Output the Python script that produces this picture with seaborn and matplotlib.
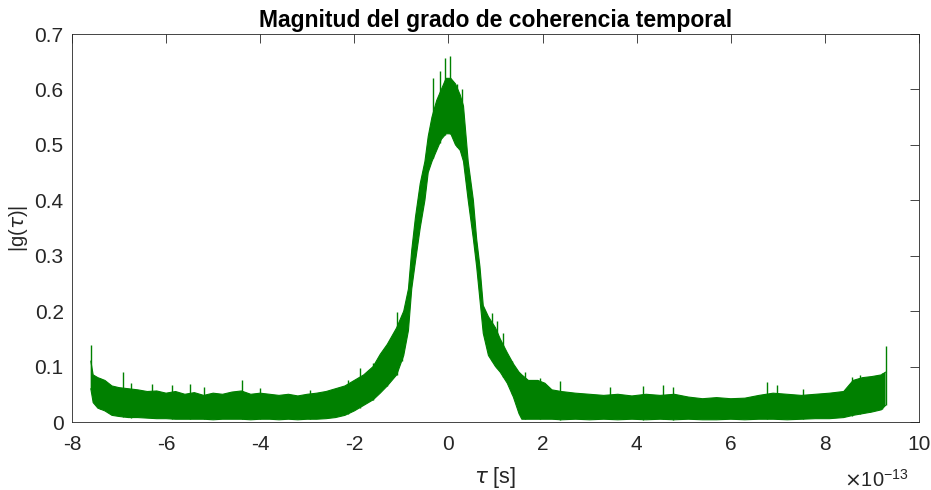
import matplotlib
matplotlib.use("Agg")
import matplotlib.pyplot as plt
import seaborn as sns
import numpy as np

# ---- data (tau in units of 1e-13 s) ----
tau = [-7.60, -7.55, -7.45, -7.30, -7.15, -7.00, -6.80, -6.60, -6.40, -6.20,
       -6.00, -5.80, -5.60, -5.40, -5.20, -5.00, -4.80, -4.60, -4.40, -4.20,
       -4.00, -3.80, -3.60, -3.40, -3.20, -3.00, -2.80, -2.60, -2.40, -2.20,
       -2.00, -1.80, -1.60, -1.45, -1.30, -1.10, -0.95, -0.85, -0.78, -0.70,
       -0.60, -0.50, -0.43, -0.35, -0.25, -0.15, -0.05, 0.05, 0.15, 0.25,
       0.32, 0.42, 0.53, 0.60, 0.67, 0.74, 0.85, 1.00, 1.10, 1.25,
       1.38, 1.50, 1.56, 1.70, 1.90, 2.05, 2.20, 2.40, 2.70, 3.00,
       3.30, 3.60, 3.90, 4.20, 4.50, 4.80, 5.10, 5.40, 5.70, 6.00,
       6.30, 6.60, 6.90, 7.20, 7.50, 7.80, 8.10, 8.40, 8.60, 8.80,
       9.00, 9.20, 9.29]
g_low = [0.060, 0.035, 0.025, 0.020, 0.012, 0.010, 0.008, 0.008, 0.007, 0.006,
         0.006, 0.005, 0.005, 0.005, 0.005, 0.004, 0.005, 0.005, 0.005, 0.004,
         0.005, 0.005, 0.004, 0.005, 0.004, 0.005, 0.005, 0.006, 0.008, 0.012,
         0.020, 0.030, 0.040, 0.052, 0.065, 0.085, 0.120, 0.165, 0.240, 0.290,
         0.350, 0.400, 0.450, 0.470, 0.490, 0.510, 0.520, 0.520, 0.500, 0.490,
         0.470, 0.400, 0.330, 0.280, 0.220, 0.160, 0.120, 0.100, 0.090, 0.070,
         0.045, 0.015, 0.005, 0.005, 0.005, 0.005, 0.005, 0.004, 0.005, 0.004,
         0.005, 0.004, 0.005, 0.004, 0.005, 0.004, 0.005, 0.004, 0.004, 0.005,
         0.004, 0.005, 0.005, 0.004, 0.005, 0.006, 0.006, 0.008, 0.012, 0.015,
         0.018, 0.022, 0.030]
g_high = [0.110, 0.085, 0.080, 0.075, 0.065, 0.062, 0.060, 0.058, 0.055, 0.056,
          0.052, 0.055, 0.050, 0.053, 0.048, 0.052, 0.050, 0.054, 0.056, 0.050,
          0.052, 0.050, 0.048, 0.050, 0.047, 0.050, 0.052, 0.055, 0.060, 0.065,
          0.075, 0.085, 0.100, 0.122, 0.140, 0.170, 0.200, 0.240, 0.310, 0.370,
          0.430, 0.470, 0.515, 0.550, 0.580, 0.600, 0.620, 0.620, 0.610, 0.590,
          0.570, 0.470, 0.400, 0.330, 0.280, 0.210, 0.190, 0.170, 0.150, 0.125,
          0.105, 0.090, 0.085, 0.075, 0.075, 0.070, 0.058, 0.055, 0.052, 0.050,
          0.048, 0.050, 0.047, 0.050, 0.048, 0.050, 0.045, 0.042, 0.044, 0.042,
          0.043, 0.048, 0.052, 0.050, 0.048, 0.050, 0.052, 0.055, 0.075, 0.080,
          0.082, 0.085, 0.090]
# prominent spike tips visible in the reference
spike_tau = [-7.60, -7.40, -6.92, -6.75, -6.30, -5.88, -5.49, -5.20, -4.39, -4.00,
             -2.94, -2.13, -1.88, -1.60, -1.31, -1.10, -0.99, -0.32, -0.18, -0.07,
             0.03, 0.18, 0.28, 0.92, 1.03, 1.16, 1.35, 1.63, 1.95, 2.37,
             3.43, 4.14, 4.56, 4.77, 6.77, 6.98, 7.54, 8.57, 8.75, 8.96,
             9.21, 9.29]
spike_g = [0.139, 0.080, 0.091, 0.070, 0.068, 0.067, 0.069, 0.063, 0.076, 0.062,
           0.058, 0.075, 0.097, 0.106, 0.130, 0.199, 0.183, 0.620, 0.634, 0.656,
           0.660, 0.610, 0.600, 0.197, 0.183, 0.160, 0.110, 0.090, 0.080, 0.074,
           0.064, 0.065, 0.067, 0.063, 0.072, 0.066, 0.060, 0.082, 0.085, 0.082,
           0.088, 0.137]
x_ticks = [-8, -6, -4, -2, 0, 2, 4, 6, 8, 10]
y_ticks = [0, 0.1, 0.2, 0.3, 0.4, 0.5, 0.6, 0.7]

GREEN = "#008000"
AX = "#262626"

sns.set_theme(style="white")
plt.rcParams["font.family"] = ["Liberation Sans", "DejaVu Sans"]
plt.rcParams["mathtext.fontset"] = "dejavusans"

fig = plt.figure(figsize=(9.31, 4.90), dpi=100)
ax = fig.add_axes([72 / 931, 68 / 490, 847 / 931, 388 / 490])

ax.fill_between(tau, g_low, g_high, facecolor=GREEN, edgecolor="none",
                linewidth=0)
sns.lineplot(x=tau, y=g_high, color=GREEN, linewidth=0.8, ax=ax, sort=False)
sns.lineplot(x=tau, y=g_low, color=GREEN, linewidth=0.8, ax=ax, sort=False)
base = np.interp(spike_tau, tau, g_low)
ax.vlines(spike_tau, base, spike_g, color=GREEN, linewidth=1.0)

ax.set_xlim(-8, 10)
ax.set_ylim(0, 0.7)
ax.set_xticks(x_ticks)
ax.set_xticklabels([str(t) for t in x_ticks])
ax.set_yticks(y_ticks)
ax.set_yticklabels(["0"] + [f"{t:.1f}" for t in y_ticks[1:]])

ax.tick_params(direction="in", length=6.5, width=0.6, color=AX,
               labelsize=15, labelcolor="#262626", top=True, right=True)
ax.tick_params(axis="x", pad=9)
ax.tick_params(axis="y", pad=6)
for s in ax.spines.values():
    s.set_visible(True)
    s.set_color(AX)
    s.set_linewidth(0.6)

ax.set_title("Magnitud del grado de coherencia temporal", fontsize=16.5,
             fontweight="bold", pad=5, color="black")
ax.set_xlabel(r"$\tau$ [s]", fontsize=15.5, labelpad=8, color="#262626")
ax.set_ylabel(r"|g($\tau$)|", fontsize=14.5, labelpad=3, color="#262626")
fig.text(909 / 931, 1 - 480 / 490, r"$\times$10$^{\mathregular{-13}}$",
         ha="right", va="center", fontsize=14.5, color="#262626")

fig.savefig("out.png", dpi=100, facecolor="white")
